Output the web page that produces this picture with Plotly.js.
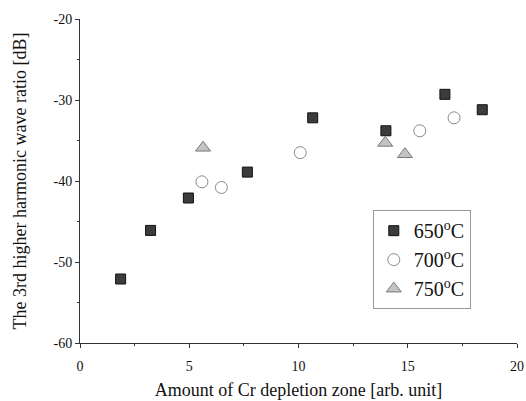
<!DOCTYPE html>
<html>
<head>
<meta charset="utf-8">
<script src="https://cdn.plot.ly/plotly-3.0.1.min.js"></script>
<style>html,body{margin:0;padding:0;background:#fff;}#chart{width:526px;height:401px;}</style>
</head>
<body>
<div id="chart"></div>
<script>
const x650 = [1.86, 3.23, 4.96, 7.66, 10.65, 14.0, 16.7, 18.41];
const y650 = [-52.1, -46.1, -42.1, -38.9, -32.2, -33.8, -29.3, -31.2];
const x700 = [5.58, 6.47, 10.08, 15.55, 17.12];
const y700 = [-40.1, -40.8, -36.5, -33.8, -32.2];
const x750 = [5.63, 13.97, 14.87];
const y750 = [-35.9, -35.3, -36.7];
const xTicks = [0, 5, 10, 15, 20];
const xTickText = ['0', '5', '10', '15', '20'];
const yTicks = [-60, -50, -40, -30, -20];
const yTickText = ['-60', '-50', '-40', '-30', '-20'];
const names = ['650<sup>o</sup>C', '700<sup>o</sup>C', '750<sup>o</sup>C'];

const traces = [
  {x: x650, y: y650, name: names[0], type: 'scatter', mode: 'markers',
   marker: {symbol: 'square', size: 10, color: '#3c3c3c', line: {color: '#111', width: 1}}},
  {x: x700, y: y700, name: names[1], type: 'scatter', mode: 'markers',
   marker: {symbol: 'circle-open', size: 12, color: '#8a8a8a', line: {color: '#8a8a8a', width: 1}}},
  {x: x750, y: y750, name: names[2], type: 'scatter', mode: 'markers',
   marker: {symbol: 'triangle-up', size: 13, color: '#c4c4c4', line: {color: '#777', width: 1}}}
];

const font = {family: '"Liberation Serif", "Times New Roman", serif', color: '#111'};

const layout = {
  width: 526, height: 401,
  margin: {l: 80, r: 9, t: 19, b: 58},
  paper_bgcolor: '#fff', plot_bgcolor: '#fff',
  font: Object.assign({size: 13}, font),
  showlegend: true,
  legend: {
    x: 0.67, y: 0.41, xanchor: 'left', yanchor: 'top',
    bordercolor: '#999', borderwidth: 1, bgcolor: '#fff',
    font: Object.assign({size: 20}, font),
    itemwidth: 30
  },
  xaxis: {
    range: [0, 20], showgrid: false, zeroline: false,
    showline: true, linecolor: '#333', linewidth: 1,
    tickmode: 'array', tickvals: xTicks, ticktext: xTickText,
    ticks: 'outside', ticklen: 4, tickcolor: '#333',
    ticklabelstandoff: 6,
    minor: {dtick: 2.5, ticks: 'outside', ticklen: 2, tickcolor: '#333'},
    tickfont: Object.assign({size: 14}, font),
    title: {text: 'Amount of Cr depletion zone [arb. unit]', font: Object.assign({size: 18}, font), standoff: 10}
  },
  yaxis: {
    range: [-60, -20], showgrid: false, zeroline: false,
    showline: true, linecolor: '#333', linewidth: 1,
    tickmode: 'array', tickvals: yTicks, ticktext: yTickText,
    ticks: 'outside', ticklen: 4, tickcolor: '#333',
    minor: {dtick: 5, ticks: 'outside', ticklen: 2, tickcolor: '#333'},
    tickfont: Object.assign({size: 14}, font),
    title: {text: 'The 3rd higher harmonic wave ratio [dB]', font: Object.assign({size: 18}, font), standoff: 22}
  }
};

Plotly.newPlot('chart', traces, layout, {displayModeBar: false, staticPlot: true});
</script>
</body>
</html>
